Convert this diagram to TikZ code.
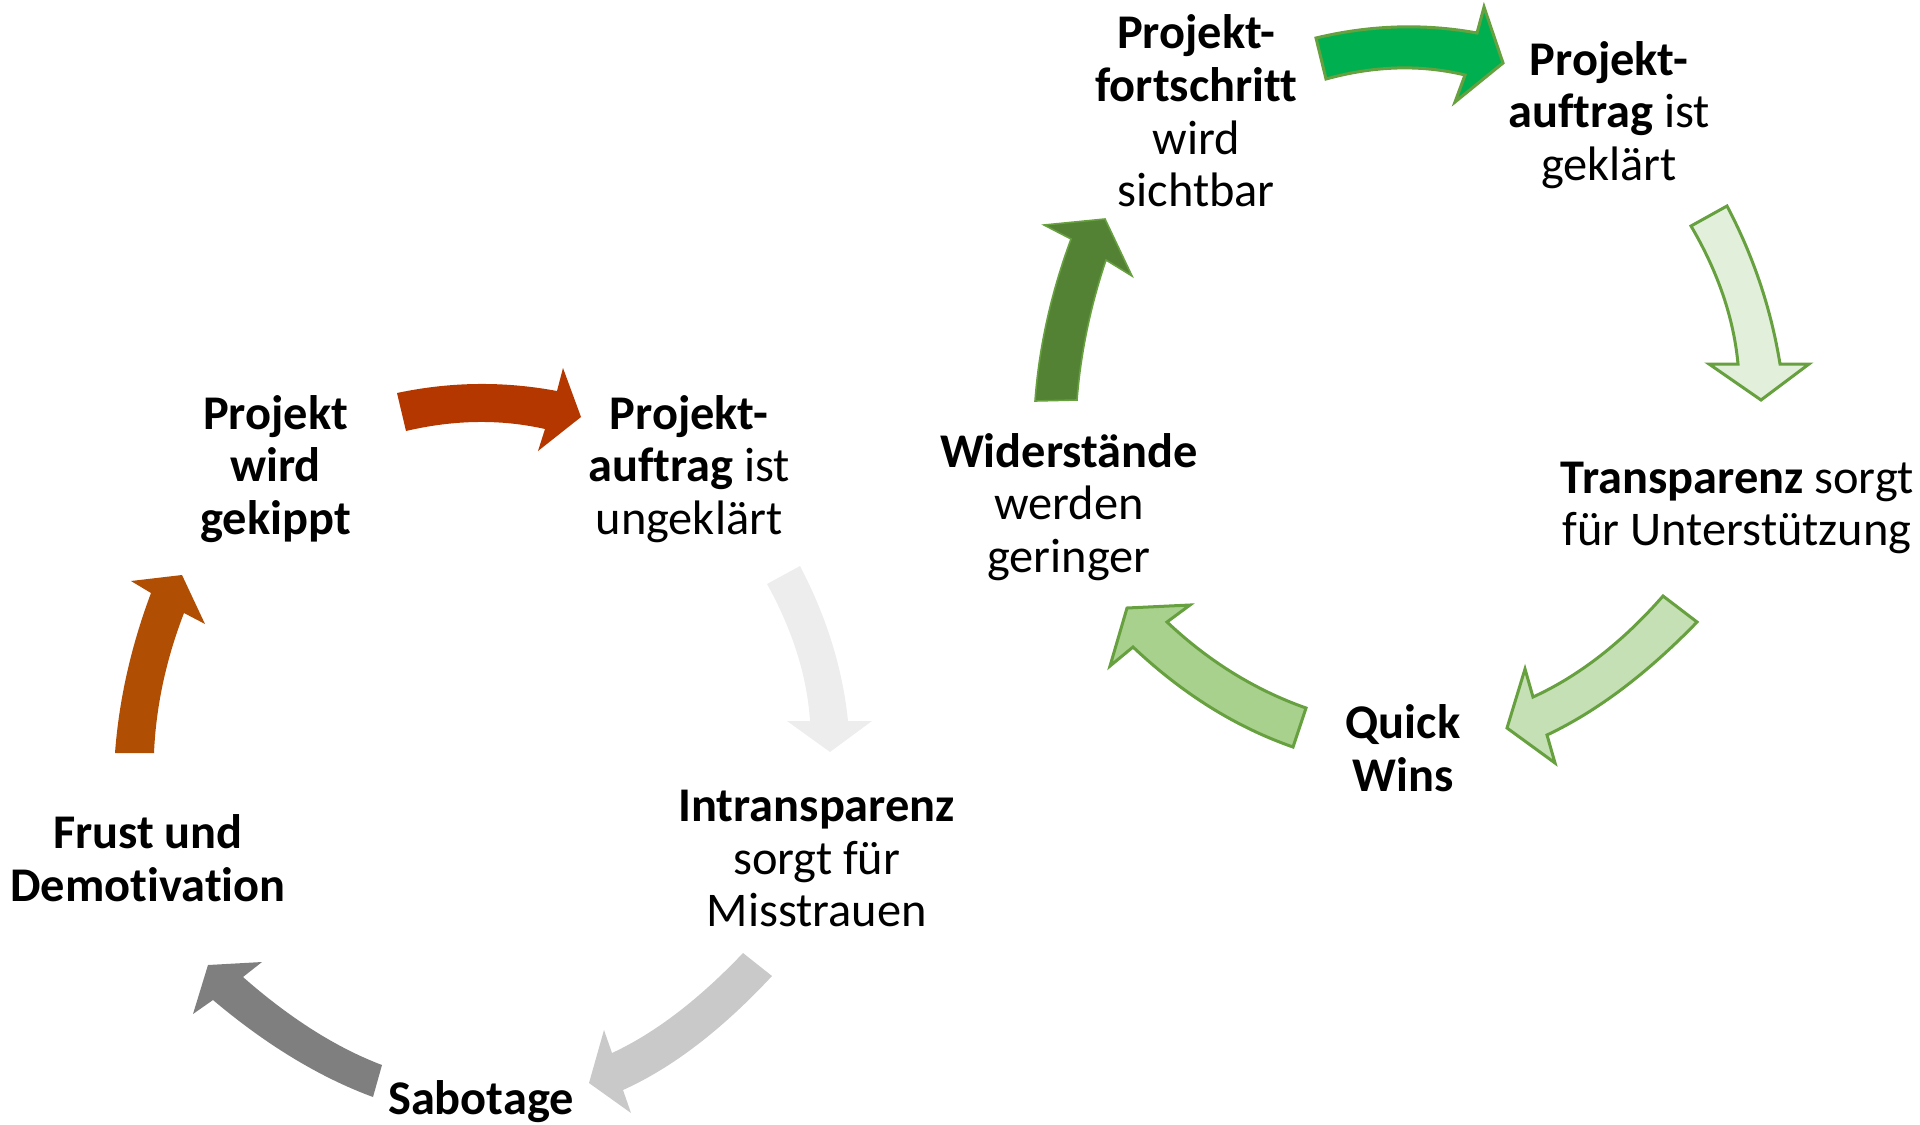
\documentclass[tikz,border=0pt]{standalone}
\usepackage{fontspec}
\setmainfont{Carlito}[Ligatures=NoCommon]
\usetikzlibrary{calc}
\definecolor{redA}{HTML}{B43700}
\definecolor{orangeA}{HTML}{B04E04}
\definecolor{greyL}{HTML}{EDEDED}
\definecolor{greyM}{HTML}{C9C9C9}
\definecolor{greyD}{HTML}{7F7F7F}
\definecolor{greenA}{HTML}{00B050}
\definecolor{greenO}{HTML}{66A03F}
\definecolor{greenL}{HTML}{E2EFDA}
\definecolor{greenM}{HTML}{C5E0B4}
\definecolor{greenN}{HTML}{A9D18E}
\definecolor{greenD}{HTML}{548235}
% #1 T1, #2 T2, #3 J1, #4 H1, #5 P, #6 H2, #7 J2, #8 M1 (mid of T1-J1), #9 M2 (mid of T2-J2)
\newcommand\barrow[9]{%
  \path[arrowshape] (#1) .. controls ($1.3333*(#8)-0.3333*(#3)$) and ($1.3333*(#8)-0.3333*(#1)$) .. (#3)
    -- (#4) -- (#5) -- (#6) -- (#7)
    .. controls ($1.3333*(#9)-0.3333*(#2)$) and ($1.3333*(#9)-0.3333*(#7)$) .. (#2) -- cycle;}
\tikzset{
  arrowshape/.style={fill=black},
  lbl/.style={align=center, inner sep=0pt, font=\fontsize{24.2}{26.3}\selectfont},
}
\begin{document}
\begin{tikzpicture}[x=0.5pt,y=-0.5pt,line join=miter]
\useasboundingbox (0,0) rectangle (1920,1124);
% ---------- left cycle ----------
\tikzset{arrowshape/.style={fill=redA}}
\barrow{397,393}{406,431}{557,391}{563,368}{581,417}{538,451}{545,429}{477,384}{477,422}
\tikzset{arrowshape/.style={fill=greyL}}
\barrow{767,584}{800,566}{810,721}{787,721}{830,752}{872,721}{848,721}{797,653}{832,643}
\tikzset{arrowshape/.style={fill=greyM}}
\barrow{743,953}{772,976}{612,1053}{604,1030}{589,1083}{631,1113}{623,1090}{677,1013}{697,1045}
\tikzset{arrowshape/.style={fill=greyD}}
\barrow{382,1065}{373,1097}{243,977}{262,962}{208,965}{193,1014}{213,1000}{313,1030}{293,1058}
\tikzset{arrowshape/.style={fill=orangeA}}
\barrow{115,753}{154,753}{151,593}{131,581}{182,575}{205,624}{184,613}{127,673}{163,683}
% ---------- right cycle ----------
\tikzset{arrowshape/.style={fill=greenA,draw=greenO,line width=1.5pt}}
\barrow{1316,38}{1326,79}{1477,33}{1484,7}{1503,63}{1455,102}{1465,75}{1397,27}{1397,68}
\tikzset{arrowshape/.style={fill=greenL,draw=greenO,line width=1.5pt}}
\barrow{1691,226}{1727,206}{1738,364}{1709,364}{1761,400}{1809,364}{1780,364}{1723,295}{1760,283}
\tikzset{arrowshape/.style={fill=greenM,draw=greenO,line width=1.5pt}}
\barrow{1663,596}{1697,622}{1533,697}{1525,669}{1507,728}{1555,763}{1547,735}{1600,656}{1622,689}
\tikzset{arrowshape/.style={fill=greenN,draw=greenO,line width=1.5pt}}
\barrow{1306,708}{1293,747}{1167,622}{1190,605}{1127,608}{1110,666}{1133,647}{1233,673}{1210,707}
\tikzset{arrowshape/.style={fill=greenD,draw=greenO,line width=0.8pt}}
\barrow{1035,401}{1077,400}{1071,239}{1044,225}{1105,219}{1132,276}{1106,260}{1047,320}{1087,330}
% ---------- labels ----------
\node[lbl] (gekippt) at (275.5,469) {\textbf{Projekt}\\\textbf{wird}\\\textbf{gekippt}};
\node[lbl] (ungeklaert) at (689,469) {\textbf{Projekt-}\\\textbf{auftrag} ist\\ungeklärt};
\node[lbl] (intrans) at (816.7,858.5) {\textbf{Intransparenz}\\sorgt für\\Misstrauen};
\node[lbl] (sabotage) at (481,1102) {\textbf{Sabotage}};
\node[lbl] (frust) at (148,858.4) {\textbf{Frust und}\\\textbf{Demotivation}};
\node[lbl] (fortschritt) at (1196.3,111) {\textbf{Projekt-}\\\textbf{fortschritt}\\wird\\sichtbar};
\node[lbl] (geklaert) at (1609,115) {\textbf{Projekt-}\\\textbf{auftrag} ist\\geklärt};
\node[lbl] (trans) at (1737,508) {\textbf{Transparenz} sorgt\\für Unterstützung};
\node[lbl] (quick) at (1403,748) {\textbf{Quick}\\\textbf{Wins}};
\node[lbl] (widerst) at (1069,507) {\textbf{Widerstände}\\werden\\geringer};
\end{tikzpicture}
\end{document}
